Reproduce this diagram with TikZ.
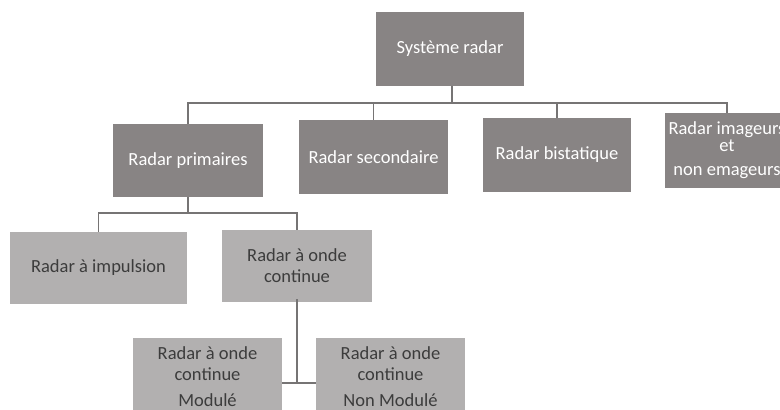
\documentclass[tikz,border=0pt]{standalone}
\usepackage{fontspec}
\setmainfont{Carlito}
\definecolor{darkbox}{HTML}{888484}
\definecolor{lightbox}{HTML}{B2B0B0}
\definecolor{linec}{HTML}{767474}
\definecolor{darktext}{HTML}{3C3C3C}
\begin{document}
\begin{tikzpicture}[x=1pt,y=-1pt,
  dbox/.style={fill=darkbox, text=white, inner sep=0pt, align=center, font=\fontsize{18.5}{19}\selectfont},
  lbox/.style={fill=lightbox, text=darktext, inner sep=0pt, align=center, font=\fontsize{18.5}{21}\selectfont},
  conn/.style={draw=linec, line width=1.6pt}]
\useasboundingbox (0,0) rectangle (780,410);
\clip (0,0) rectangle (780,410);
\fill[white] (0,0) rectangle (780,410);
\node[dbox, minimum width=148pt, minimum height=74pt] (top) at (450,49) {Système radar};
\node[dbox, minimum width=150pt, minimum height=73pt] (prim) at (188,160.5) {Radar primaires};
\node[dbox, minimum width=149pt, minimum height=74pt] (sec) at (373.5,157) {Radar secondaire};
\node[dbox, minimum width=148pt, minimum height=74pt] (bis) at (557,155) {Radar bistatique};
\node[dbox, minimum width=124pt, minimum height=75pt] (img) at (727,150.5) {Radar imageurs\\[-2pt]et\\[5pt]non emageurs};
\node[lbox, minimum width=177pt, minimum height=72pt] (imp) at (98.5,268) {Radar à impulsion};
\node[lbox, minimum width=150pt, minimum height=72pt] (cont) at (297,266) {Radar à onde\\continue};
\node[lbox, minimum width=149pt, minimum height=78pt] (mod) at (207.5,377) {Radar à onde\\continue\\[5pt]Modulé};
\node[lbox, minimum width=149pt, minimum height=78pt] (nmod) at (390.5,377) {Radar à onde\\continue\\[5pt]Non Modulé};
\coordinate (bar) at (452,103);
\coordinate (bar2) at (190,213);
\coordinate (tj) at (298,383);
\draw[conn] ([xshift=2pt]top.south) -- ([xshift=2pt]top.south |- bar);
\draw[conn] (prim.north) -- (prim.north |- bar) -- (img.north |- bar) -- (img.north);
\draw[conn] (sec.north) -- (sec.north |- bar);
\draw[conn] (bis.north) -- (bis.north |- bar);
\draw[conn] (prim.south) -- (prim.south |- bar2);
\draw[conn] (imp.north) -- (imp.north |- bar2) -- (cont.north |- bar2) -- (cont.north);
\draw[conn] ([yshift=3pt]cont.south) -- (cont.south |- tj);
\draw[conn] (mod.east |- tj) -- (nmod.west |- tj);
\end{tikzpicture}
\end{document}
